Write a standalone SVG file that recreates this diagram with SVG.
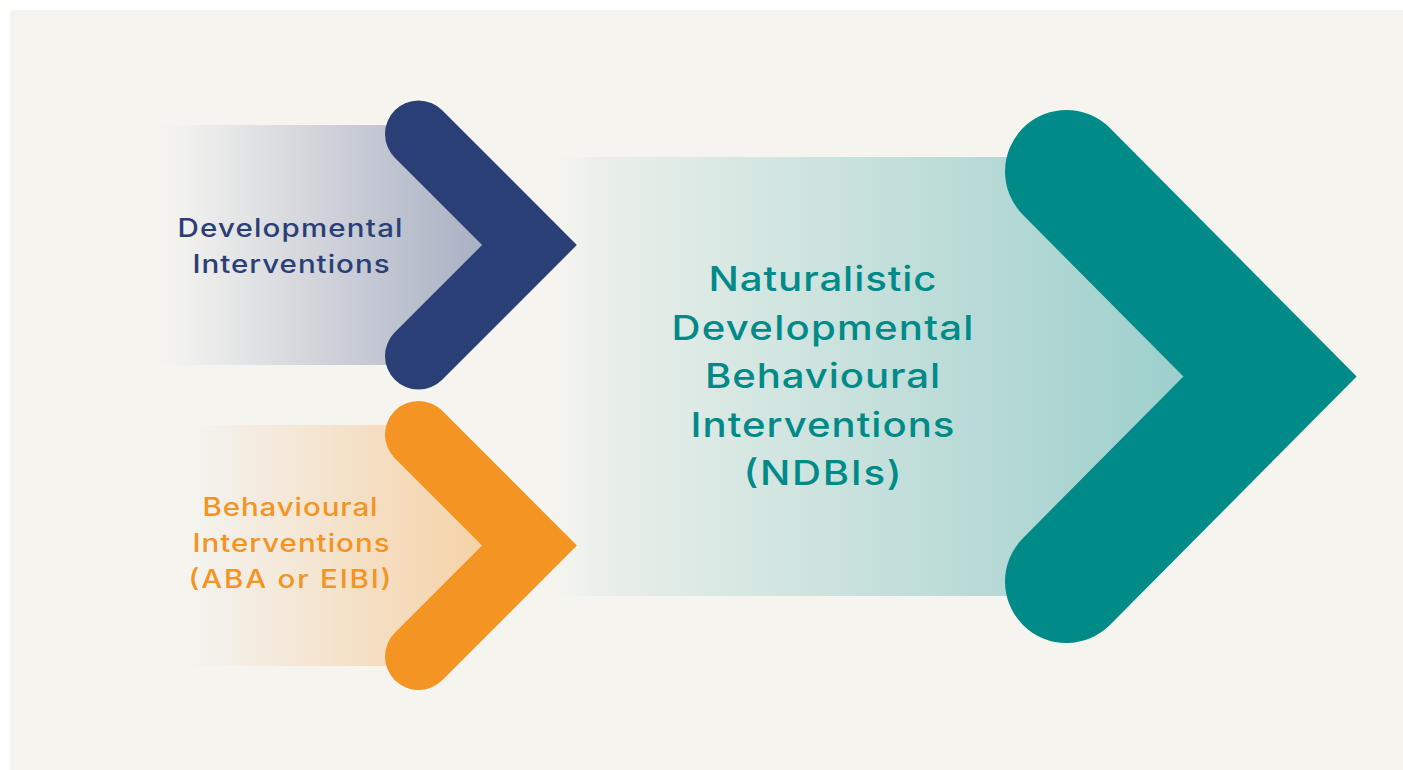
<svg xmlns="http://www.w3.org/2000/svg" width="1403" height="770" viewBox="0 0 1403 770">
<defs>
<linearGradient id="gBlue" gradientUnits="userSpaceOnUse" x1="145" y1="0" x2="485" y2="0">
<stop offset="0" stop-color="#f5f4ef" stop-opacity="0"/>
<stop offset="0.15" stop-color="#eeeeec"/>
<stop offset="1" stop-color="#a9b0c3"/>
</linearGradient>
<linearGradient id="gOrange" gradientUnits="userSpaceOnUse" x1="170" y1="0" x2="485" y2="0">
<stop offset="0" stop-color="#f5f4ef" stop-opacity="0"/>
<stop offset="0.15" stop-color="#f4f0ea"/>
<stop offset="1" stop-color="#f5d2a6"/>
</linearGradient>
<linearGradient id="gTeal" gradientUnits="userSpaceOnUse" x1="545" y1="0" x2="1185" y2="0">
<stop offset="0" stop-color="#f5f4ef" stop-opacity="0"/>
<stop offset="0.08" stop-color="#eaefea"/>
<stop offset="1" stop-color="#9dcfcc"/>
</linearGradient>
<style>
.chev{fill:none;stroke-linecap:round;stroke-linejoin:miter;stroke-miterlimit:10}
.lbl{font-family:Inter,"Liberation Sans",sans-serif;font-weight:500;text-anchor:middle}
.small{font-size:25px}
.big{font-size:34px}
</style>
</defs>
<rect x="0" y="0" width="1403" height="770" fill="#ffffff"/>
<rect x="10" y="10" width="1393" height="760" fill="#f5f4ef"/>
<g id="node-ndbi">
<polygon points="545,157 1050.5,157 1270,376.5 1050.5,596 545,596" fill="url(#gTeal)"/>
<polyline class="chev" points="1066.5,171.5 1270,376.5 1066.5,581.5" stroke="#008b89" stroke-width="123"/>
<text class="lbl big" fill="#008b89" transform="translate(822.5,291) scale(1.18,1)" textLength="193.2" lengthAdjust="spacing">Naturalistic</text>
<text class="lbl big" fill="#008b89" transform="translate(822.5,339.5) scale(1.18,1)" textLength="255.9" lengthAdjust="spacing">Developmental</text>
<text class="lbl big" fill="#008b89" transform="translate(822.5,388) scale(1.18,1)" textLength="199.2" lengthAdjust="spacing">Behavioural</text>
<text class="lbl big" fill="#008b89" transform="translate(822.5,436.5) scale(1.18,1)" textLength="223.7" lengthAdjust="spacing">Interventions</text>
<text class="lbl big" fill="#008b89" transform="translate(822.5,485) scale(1.18,1)" textLength="133.9" lengthAdjust="spacing">(NDBIs)</text>
</g>
<g id="node-developmental">
<polygon points="145,125 409.5,125 529.5,245 409.5,365 145,365" fill="url(#gBlue)"/>
<polyline class="chev" points="418.5,134 529.5,245 418.5,356" stroke="#2a3f76" stroke-width="67"/>
<text class="lbl small" fill="#2a3f76" transform="translate(290,237) scale(1.18,1)" textLength="190.7" lengthAdjust="spacing">Developmental</text>
<text class="lbl small" fill="#2a3f76" transform="translate(291,273) scale(1.18,1)" textLength="167" lengthAdjust="spacing">Interventions</text>
</g>
<g id="node-behavioural">
<polygon points="170,425 409.5,425 529.5,545.5 409.5,666 170,666" fill="url(#gOrange)"/>
<polyline class="chev" points="418.5,434.5 529.5,545.5 418.5,656.5" stroke="#f39423" stroke-width="67"/>
<text class="lbl small" fill="#f39423" transform="translate(290,516) scale(1.18,1)" textLength="148.3" lengthAdjust="spacing">Behavioural</text>
<text class="lbl small" fill="#f39423" transform="translate(291,552) scale(1.18,1)" textLength="167" lengthAdjust="spacing">Interventions</text>
<text class="lbl small" fill="#f39423" transform="translate(290,588) scale(1.18,1)" textLength="172" lengthAdjust="spacing">(ABA or EIBI)</text>
</g>
<g id="connectors"></g>
</svg>
